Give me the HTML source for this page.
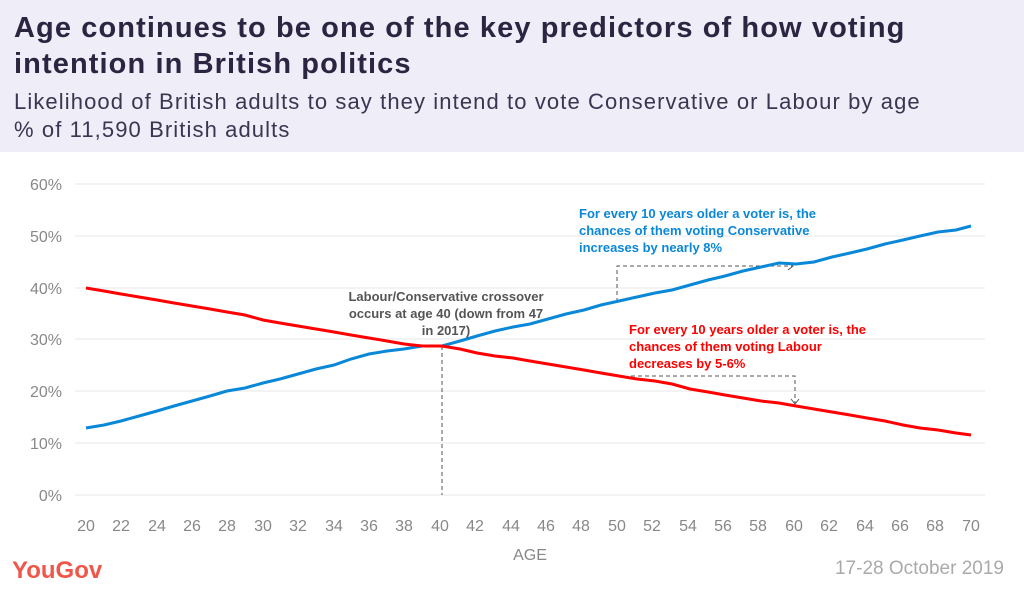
<!DOCTYPE html>
<html><head><meta charset="utf-8"><style>
body{margin:0;width:1024px;height:594px;overflow:hidden;background:#fff;font-family:"Liberation Sans",sans-serif}
.hdr{position:absolute;left:0;top:0;width:1024px;height:152px;background:#efedf7}
.t{position:absolute;left:14px;top:10px;font-size:29px;font-weight:bold;color:#2b2541;line-height:36px;letter-spacing:1.1px;white-space:nowrap}
.s{position:absolute;left:14px;top:88px;font-size:22px;color:#3a3550;line-height:28px;letter-spacing:1.1px;white-space:nowrap}
</style></head><body>
<div class="hdr"></div>
<div class="t">Age continues to be one of the key predictors of how voting<br>intention in British politics</div>
<div class="s">Likelihood of British adults to say they intend to vote Conservative or Labour by age<br>% of 11,590 British adults</div>
<svg width="1024" height="594" style="position:absolute;left:0;top:0" font-family="Liberation Sans, sans-serif">
<g stroke="#ececec" stroke-width="1.2">
<line x1="75" x2="985" y1="184" y2="184"/><line x1="75" x2="985" y1="236" y2="236"/><line x1="75" x2="985" y1="288" y2="288"/><line x1="75" x2="985" y1="339" y2="339"/><line x1="75" x2="985" y1="391" y2="391"/><line x1="75" x2="985" y1="443" y2="443"/><line x1="75" x2="985" y1="495" y2="495"/>
</g>
<g fill="#888" font-size="16" text-anchor="end">
<text x="62" y="190">60%</text><text x="62" y="242">50%</text><text x="62" y="294">40%</text><text x="62" y="345">30%</text><text x="62" y="397">20%</text><text x="62" y="449">10%</text><text x="62" y="501">0%</text>
</g>
<g fill="#888" font-size="16" text-anchor="middle">
<text x="86" y="531">20</text><text x="121" y="531">22</text><text x="157" y="531">24</text><text x="192" y="531">26</text><text x="227" y="531">28</text><text x="263" y="531">30</text><text x="298" y="531">32</text><text x="334" y="531">34</text><text x="369" y="531">36</text><text x="404" y="531">38</text><text x="440" y="531">40</text><text x="475" y="531">42</text><text x="511" y="531">44</text><text x="546" y="531">46</text><text x="581" y="531">48</text><text x="617" y="531">50</text><text x="652" y="531">52</text><text x="688" y="531">54</text><text x="723" y="531">56</text><text x="758" y="531">58</text><text x="794" y="531">60</text><text x="829" y="531">62</text><text x="865" y="531">64</text><text x="900" y="531">66</text><text x="935" y="531">68</text><text x="971" y="531">70</text>
<text x="530" y="560">AGE</text>
</g>
<g stroke="#555" stroke-width="1" stroke-dasharray="4,3" fill="none">
<line x1="442" y1="346" x2="442" y2="495"/>
<polyline points="617,302 617,266 792,266"/>
<polyline points="631,376 795,376 795,404"/>
</g>
<g stroke="#555" fill="none" stroke-width="1"><polyline points="788,262 793,266 788,270"/><polyline points="791,399 795,404 799,399"/></g>
<polyline fill="none" stroke="#0a88d8" stroke-width="3" points="86,428 104,425 121,421 139,416 157,411 174,406 192,401 210,396 227,391 245,388 263,383 280,379 298,374 316,369 334,365 351,359 369,354 387,351 404,349 422,346 442,346 460,341 477,336 495,331 513,327 530,324 548,319 566,314 584,310 601,305 619,301 637,297 655,293 672,290 690,285 708,280 725,276 743,271 761,267 779,263 796,264 814,262 832,257 850,253 867,249 885,244 903,240 920,236 938,232 956,230 971,226"/>
<polyline fill="none" stroke="#f00" stroke-width="3" points="86,288 104,291 121,294 139,297 157,300 174,303 192,306 210,309 227,312 245,315 263,320 280,323 298,326 316,329 334,332 351,335 369,338 387,341 404,344 422,346 442,346 460,349 477,353 495,356 513,358 530,361 548,364 566,367 584,370 601,373 619,376 637,379 655,381 672,384 690,389 708,392 725,395 743,398 761,401 779,403 796,406 814,409 832,412 850,415 867,418 885,421 903,425 920,428 938,430 956,433 971,435"/>
<g font-size="13" font-weight="bold">
<text fill="#0a88d8" x="579" y="218">For every 10 years older a voter is, the</text>
<text fill="#0a88d8" x="579" y="235">chances of them voting Conservative</text>
<text fill="#0a88d8" x="579" y="252">increases by nearly 8%</text>
<text fill="#f00" x="629" y="334">For every 10 years older a voter is, the</text>
<text fill="#f00" x="629" y="351">chances of them voting Labour</text>
<text fill="#f00" x="629" y="368">decreases by 5-6%</text>
<g fill="#555" text-anchor="middle"><text x="446" y="301">Labour/Conservative crossover</text><text x="446" y="318">occurs at age 40 (down from 47</text><text x="446" y="335">in 2017)</text></g>
</g>
<text x="12" y="578" font-size="24" font-weight="bold" fill="#f0574a">YouGov</text>
<text x="1004" y="574" font-size="19" fill="#aaa" text-anchor="end">17-28 October 2019</text>
</svg>
</body></html>
